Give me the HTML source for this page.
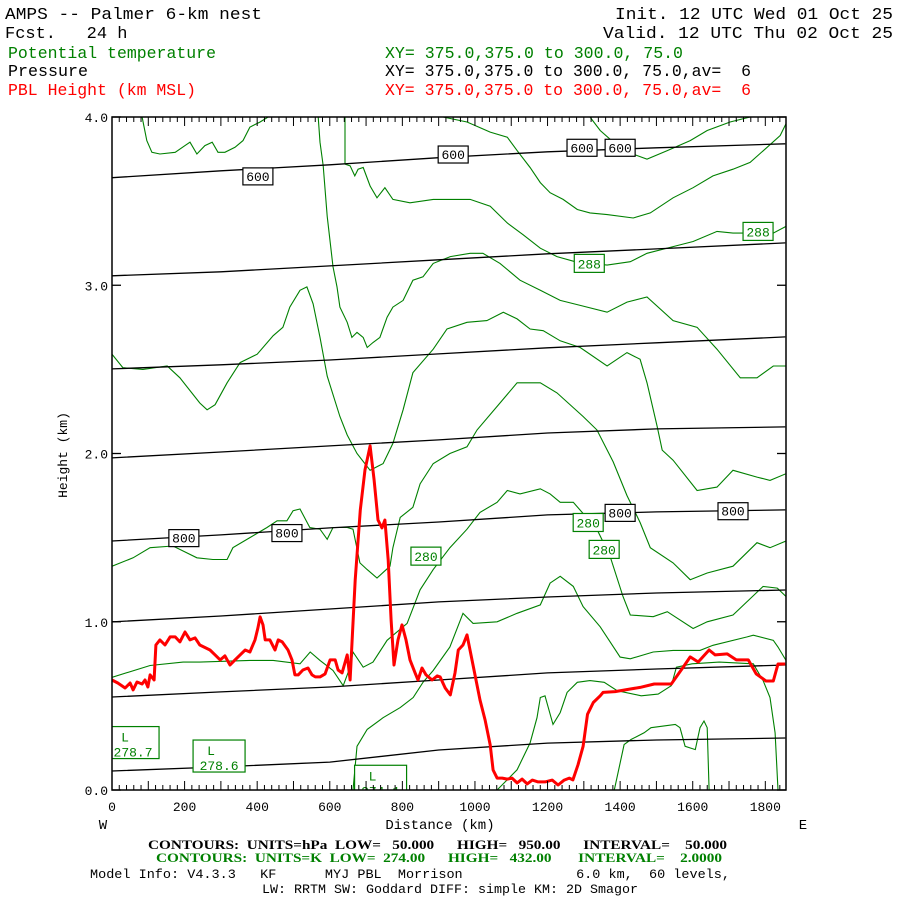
<!DOCTYPE html>
<html><head><meta charset="utf-8"><style>
html,body{margin:0;padding:0;background:#fff;}
svg text{white-space:pre;}
.mono{font-family:"Liberation Mono",monospace;}
.serif{font-family:"Liberation Serif",serif;}
</style></head><body>
<svg id="chart" width="900" height="900" viewBox="0 0 900 900" xmlns="http://www.w3.org/2000/svg">
<rect x="0" y="0" width="900" height="900" fill="#fff"/>
<g class="mono" font-size="17">
<text x="5" y="19" textLength="257" lengthAdjust="spacingAndGlyphs">AMPS -- Palmer 6-km nest</text>
<text x="893" y="19" text-anchor="end" textLength="278" lengthAdjust="spacingAndGlyphs">Init. 12 UTC Wed 01 Oct 25</text>
<text x="5" y="38">Fcst.   24 h</text>
<text x="893" y="38" text-anchor="end" textLength="290" lengthAdjust="spacingAndGlyphs">Valid. 12 UTC Thu 02 Oct 25</text>
<text x="8" y="58" fill="#008000" textLength="208" lengthAdjust="spacingAndGlyphs">Potential temperature</text>
<text x="385" y="58" fill="#008000" textLength="298" lengthAdjust="spacingAndGlyphs">XY= 375.0,375.0 to 300.0, 75.0</text>
<text x="8" y="76" textLength="80" lengthAdjust="spacingAndGlyphs">Pressure</text>
<text x="385" y="76" textLength="366" lengthAdjust="spacingAndGlyphs">XY= 375.0,375.0 to 300.0, 75.0,av=  6</text>
<text x="8" y="95" fill="#ff0000" textLength="188" lengthAdjust="spacingAndGlyphs">PBL Height (km MSL)</text>
<text x="385" y="95" fill="#ff0000" textLength="366" lengthAdjust="spacingAndGlyphs">XY= 375.0,375.0 to 300.0, 75.0,av=  6</text>
</g>
<defs><clipPath id="plotclip"><rect x="112" y="117" width="674" height="673"/></clipPath></defs>
<g id="plot" clip-path="url(#plotclip)"></g>
<g id="axes"></g>
<g class="mono" font-size="14">
<text x="440" y="829" text-anchor="middle">Distance (km)</text>
<text x="103" y="829" text-anchor="middle">W</text>
<text x="803" y="829" text-anchor="middle">E</text>
<text transform="translate(67,455) rotate(-90)" text-anchor="middle" font-size="13">Height (km)</text>
</g>
<g>
<text class="serif" x="148" y="849" font-size="13" font-weight="bold" textLength="579" lengthAdjust="spacingAndGlyphs">CONTOURS:  UNITS=hPa  LOW=   50.000      HIGH=   950.00      INTERVAL=    50.000</text>
<text class="serif" x="156" y="862" font-size="13" font-weight="bold" fill="#008000" textLength="566" lengthAdjust="spacingAndGlyphs">CONTOURS:  UNITS=K  LOW=  274.00      HIGH=   432.00       INTERVAL=    2.0000</text>
<text class="mono" x="90" y="878" font-size="13" textLength="640" lengthAdjust="spacingAndGlyphs">Model Info: V4.3.3   KF      MYJ PBL  Morrison              6.0 km,  60 levels,</text>
<text class="mono" x="262" y="893" font-size="13" textLength="376" lengthAdjust="spacingAndGlyphs">LW: RRTM SW: Goddard DIFF: simple KM: 2D Smagor</text>
</g>
</svg>
<script>
// ---- data ----
const pblDist = [0,16,36,50,58,69,83,91,99,105,116,121,132,146,160,174,187,201,215,229,242,270,284,298,311,325,339,353,367,380,394,402,408,416,422,435,449,458,469,485,496,504,513,526,540,551,560,573,587,601,615,623,634,648,656,670,684,697,711,722,733,744,752,761,769,777,788,799,810,821,835,843,854,865,882,896,904,918,932,945,954,967,978,992,1000,1014,1028,1042,1050,1061,1075,1089,1102,1116,1130,1144,1158,1174,1193,1213,1229,1246,1260,1270,1284,1298,1310,1326,1345,1353,1386,1428,1455,1494,1541,1574,1593,1615,1645,1662,1695,1720,1753,1775,1802,1822,1835,1855];
const pblHeight = [0.654,0.636,0.606,0.636,0.595,0.642,0.630,0.654,0.612,0.684,0.654,0.862,0.892,0.862,0.910,0.910,0.880,0.939,0.892,0.904,0.862,0.832,0.803,0.773,0.797,0.743,0.773,0.803,0.832,0.820,0.892,0.963,1.029,0.981,0.892,0.892,0.832,0.892,0.880,0.832,0.773,0.684,0.684,0.713,0.725,0.684,0.672,0.672,0.690,0.773,0.773,0.713,0.696,0.803,0.654,1.249,1.665,1.903,2.045,1.843,1.605,1.558,1.605,1.367,1.011,0.743,0.892,0.981,0.892,0.773,0.696,0.654,0.725,0.684,0.654,0.678,0.672,0.606,0.565,0.696,0.832,0.862,0.922,0.773,0.684,0.535,0.416,0.268,0.119,0.071,0.071,0.065,0.071,0.042,0.065,0.036,0.059,0.048,0.048,0.059,0.030,0.059,0.071,0.06,0.15,0.26,0.45,0.52,0.56,0.58,0.585,0.60,0.61,0.63,0.63,0.731,0.791,0.761,0.832,0.803,0.809,0.773,0.773,0.690,0.648,0.648,0.749,0.749];

const pressDist = [0,300,600,900,1200,1500,1855];
const pressLevels = [600,650,700,750,800,850,900,950];
const press600 = [3.639,3.680,3.716,3.758,3.793,3.817,3.841];
const press650 = [3.056,3.080,3.115,3.151,3.187,3.216,3.252];
const press700 = [2.503,2.527,2.556,2.592,2.628,2.658,2.693];
const press750 = [1.974,2.009,2.045,2.081,2.122,2.146,2.158];
const press800 = [1.480,1.516,1.558,1.593,1.635,1.653,1.665];
const press850 = [0.999,1.034,1.076,1.118,1.147,1.171,1.189];
const press900 = [0.553,0.583,0.612,0.654,0.696,0.719,0.743];
const press950 = [0.113,0.137,0.166,0.238,0.279,0.297,0.309];
const pressHeights = [press600,press650,press700,press750,press800,press850,press900,press950];

const thetaA_d=[83,96,110,132,174,201,215,234,256,276,292,311,339,361,380,408,430];
const thetaA_h=[4.00,3.86,3.79,3.78,3.79,3.83,3.85,3.78,3.83,3.85,3.79,3.79,3.82,3.86,3.94,3.97,4.00];
const thetaB_d=[568,573,582,593,601,609,620,628,648,661,675,692,703,719,738,758,774,802,829,857,885,932,987,1022,1069,1124,1180,1235,1290,1364,1419,1474,1546,1612,1667,1731,1777,1822,1857];
const thetaB_h=[4.00,3.85,3.71,3.41,3.26,3.11,2.99,2.87,2.78,2.69,2.72,2.69,2.63,2.66,2.69,2.81,2.87,2.91,3.03,3.05,3.13,3.17,3.19,3.19,3.13,3.03,2.97,2.91,2.88,2.84,2.90,2.93,2.79,2.75,2.62,2.45,2.45,2.52,2.52];
const thetaC_d=[642,642,656,669,678,692,711,730,752,774,821,885,987,1042,1089,1133,1180,1226,1276,1364,1428,1474,1546,1601,1667,1711,1822,1857];
const thetaC_h=[4.00,3.72,3.71,3.65,3.69,3.70,3.59,3.52,3.58,3.51,3.49,3.51,3.51,3.47,3.37,3.30,3.22,3.17,3.14,3.12,3.14,3.19,3.23,3.26,3.32,3.31,3.31,3.35];
const thetaD_d=[912,978,1042,1089,1116,1152,1180,1207,1243,1282,1317,1364,1436,1483,1546,1601,1656,1711,1758,1805,1841,1857];
const thetaD_h=[4.00,3.97,3.91,3.88,3.80,3.70,3.61,3.55,3.51,3.45,3.43,3.42,3.40,3.43,3.52,3.58,3.65,3.69,3.73,3.82,3.89,3.96];
const thetaE_d=[1317,1345,1408,1474,1530,1593,1640,1703,1758];
const thetaE_h=[4.00,3.92,3.80,3.75,3.80,3.86,3.92,3.97,4.00];
const thetaF_d=[0,30,85,152,187,242,262,284,317,353,400,444,471,490,518,537,554,573,593,628,648,675,711,747,774,802,829,885,923,978,1033,1078,1116,1152,1188,1235,1290,1364,1419,1455,1474,1502,1516,1546,1612,1667,1711,1777,1813,1857];
const thetaF_h=[2.59,2.51,2.50,2.52,2.45,2.30,2.26,2.29,2.42,2.54,2.59,2.70,2.75,2.87,2.97,2.99,2.89,2.69,2.46,2.22,2.11,2.00,1.90,1.94,2.06,2.26,2.48,2.62,2.74,2.78,2.79,2.84,2.80,2.74,2.73,2.67,2.63,2.52,2.60,2.56,2.42,2.16,2.02,1.96,1.78,1.80,1.90,1.86,1.84,1.88];
const thetaH_d=[0,58,105,168,234,278,317,333,380,427,455,482,499,518,545,573,593,609,648,664,683,703,730,766,774,794,829,849,885,931,978,1006,1069,1116,1180,1226,1298,1336,1381,1419,1455,1483,1546,1593,1640,1711,1777,1813,1857];
const thetaH_h=[1.33,1.38,1.44,1.45,1.38,1.37,1.37,1.44,1.50,1.56,1.60,1.60,1.66,1.67,1.56,1.55,1.49,1.56,1.56,1.55,1.35,1.31,1.26,1.33,1.44,1.62,1.68,1.82,1.94,2.00,2.04,2.14,2.30,2.42,2.42,2.36,2.22,2.14,1.95,1.75,1.59,1.44,1.35,1.25,1.29,1.33,1.47,1.44,1.48];
const thetaG_d=[0,105,196,242,380,444,518,546,573,609,637,656,664,692,719,758,813,849,885,931,978,1014,1061,1089,1124,1180,1207,1235,1271,1336,1372,1408,1428,1491,1530,1601,1640,1711,1794,1833,1857];
const thetaG_h=[0.67,0.74,0.76,0.76,0.77,0.77,0.75,0.82,0.77,0.71,0.62,0.73,0.82,0.73,0.76,0.89,0.99,1.19,1.31,1.44,1.55,1.65,1.71,1.78,1.76,1.79,1.76,1.71,1.71,1.55,1.39,1.15,1.04,1.03,1.06,0.96,1.00,1.04,1.21,1.20,1.15];
const thetaI_d=[664,675,703,747,794,830,857,885,931,967,995,1061,1116,1180,1207,1235,1271,1298,1345,1400,1428,1491,1546,1620,1656,1750,1767,1822,1835,1857];
const thetaI_h=[0,0.26,0.36,0.43,0.49,0.55,0.64,0.71,0.85,1.05,0.99,1.00,1.05,1.10,1.23,1.27,1.21,1.09,0.97,0.79,0.78,0.82,0.83,0.83,0.86,0.91,0.92,0.89,0.85,0.77];
const thetaJ_d=[1061,1116,1152,1171,1180,1193,1202,1215,1235,1254,1282,1317,1356,1392,1458,1505,1541,1555,1598,1673,1767,1794,1813,1827,1835];
const thetaJ_h=[0,0.12,0.28,0.43,0.55,0.56,0.49,0.39,0.46,0.58,0.64,0.65,0.64,0.59,0.56,0.57,0.62,0.73,0.75,0.76,0.75,0.65,0.55,0.34,0];
const thetaK_d=[1384,1411,1430,1466,1485,1552,1565,1579,1607,1620,1631,1640,1645];
const thetaK_h=[0,0.27,0.30,0.34,0.37,0.39,0.37,0.26,0.24,0.37,0.41,0.37,0];
const thetaDists=[thetaA_d,thetaB_d,thetaC_d,thetaD_d,thetaE_d,thetaF_d,thetaH_d,thetaG_d,thetaI_d,thetaJ_d,thetaK_d];
const thetaHeights=[thetaA_h,thetaB_h,thetaC_h,thetaD_h,thetaE_h,thetaF_h,thetaH_h,thetaG_h,thetaI_h,thetaJ_h,thetaK_h];

const pressLabelText=['600','600','600','600','800','800','800','800'];
const pressLabelDist=[402,940,1295,1400,198,482,1400,1711];
const pressLabelHeight=[3.65,3.78,3.82,3.82,1.50,1.53,1.65,1.66];
const thetaLabelText=['288','288','280','280','280'];
const thetaLabelDist=[1315,1780,865,1312,1356];
const thetaLabelHeight=[3.13,3.32,1.39,1.59,1.43];
const lowValues=['278.7','278.6','274.1'];
const lowDist=[58,295,740];
const lowHeight=[0.27,0.19,0.04];

const xTicks=[0,200,400,600,800,1000,1200,1400,1600,1800];
const yTicks=[0,1,2,3,4];
const yTickLabels=['0.0','1.0','2.0','3.0','4.0'];

// ---- scales ----
const X0=112,X1=786,Y0=790,Y1=117,DMAX=1857,HMAX=4.0;
function xs(d){return X0+d*(X1-X0)/DMAX;}
function ys(h){return Y0-h*(Y0-Y1)/HMAX;}
const NS='http://www.w3.org/2000/svg';
function mk(tag,attrs,parent){const e=document.createElementNS(NS,tag);for(const k in attrs)e.setAttribute(k,attrs[k]);parent.appendChild(e);return e;}
function pts(ds,hs){return ds.map((d,i)=>xs(d).toFixed(1)+','+ys(hs[i]).toFixed(1)).join(' ');}

const plot=document.getElementById('plot');
const axes=document.getElementById('axes');

// theta contours
thetaDists.forEach((ds,i)=>{
  const p=mk('polyline',{points:pts(ds,thetaHeights[i]),fill:'none',stroke:'#008000','stroke-width':1.1},plot);
  
  
});
// pressure lines
pressHeights.forEach((hs,i)=>{
  const p=mk('polyline',{points:pts(pressDist,hs),fill:'none',stroke:'#000','stroke-width':1.3},plot);
  
  
});
// pressure labels
pressLabelText.forEach((t,i)=>{
  const cx=xs(pressLabelDist[i]),cy=ys(pressLabelHeight[i]);
  const g=mk('g',{},plot);
  
  
  mk('rect',{x:cx-15,y:cy-8,width:30,height:17,fill:'#fff',stroke:'#000','stroke-width':1.2},g);
  const tx=mk('text',{x:cx,y:cy+5,'text-anchor':'middle','font-size':13,'font-family':'Liberation Mono, monospace'},g);
  tx.textContent=t;
});
// theta labels
thetaLabelText.forEach((t,i)=>{
  const cx=xs(thetaLabelDist[i]),cy=ys(thetaLabelHeight[i]);
  const g=mk('g',{},plot);
  
  
  mk('rect',{x:cx-15,y:cy-9,width:30,height:18,fill:'#fff',stroke:'#008000','stroke-width':1.2},g);
  const tx=mk('text',{x:cx,y:cy+5,'text-anchor':'middle','font-size':13,fill:'#008000','font-family':'Liberation Mono, monospace'},g);
  tx.textContent=t;
});
// low markers
lowValues.forEach((t,i)=>{
  const cx=xs(lowDist[i]),cy=ys(lowHeight[i]);
  const g=mk('g',{},plot);
  
  
  mk('rect',{x:cx-26,y:cy-18,width:52,height:32,fill:'#fff',stroke:'#008000','stroke-width':1.2},g);
  const a=mk('text',{x:cx-8,y:cy-3,'text-anchor':'middle','font-size':13,fill:'#008000','font-family':'Liberation Mono, monospace'},g);
  a.textContent='L';
  const b=mk('text',{x:cx,y:cy+12,'text-anchor':'middle','font-size':13,fill:'#008000','font-family':'Liberation Mono, monospace'},g);
  b.textContent=t;
});
// PBL line
const pbl=mk('polyline',{points:pts(pblDist,pblHeight),fill:'none',stroke:'#ff0000','stroke-width':3,'stroke-linejoin':'round'},plot);



// frame
const fr=mk('rect',{x:X0,y:Y1,width:X1-X0,height:Y0-Y1,fill:'none',stroke:'#000','stroke-width':1.5},axes);


// x ticks
for(let d=0;d<=DMAX;d+=20){
  const x=xs(d), len=(d%100===0)?9:5;
  mk('line',{x1:x,y1:Y0,x2:x,y2:Y0-len,stroke:'#000','stroke-width':1},axes);
  mk('line',{x1:x,y1:Y1,x2:x,y2:Y1+len,stroke:'#000','stroke-width':1},axes);
}
xTicks.forEach(d=>{
  const t=mk('text',{x:xs(d),y:811,'text-anchor':'middle','font-size':13,'font-family':'Liberation Mono, monospace'},axes);
  
  
  t.textContent=String(d);
});
yTicks.forEach((h,i)=>{
  const y=ys(h);
  mk('line',{x1:X0,y1:y,x2:X0+9,y2:y,stroke:'#000','stroke-width':1.3},axes);
  mk('line',{x1:X1,y1:y,x2:X1-9,y2:y,stroke:'#000','stroke-width':1.3},axes);
  const t=mk('text',{x:108,y:y+5,'text-anchor':'end','font-size':13,'font-family':'Liberation Mono, monospace'},axes);
  
  
  t.textContent=yTickLabels[i];
});
</script>
</body></html>
